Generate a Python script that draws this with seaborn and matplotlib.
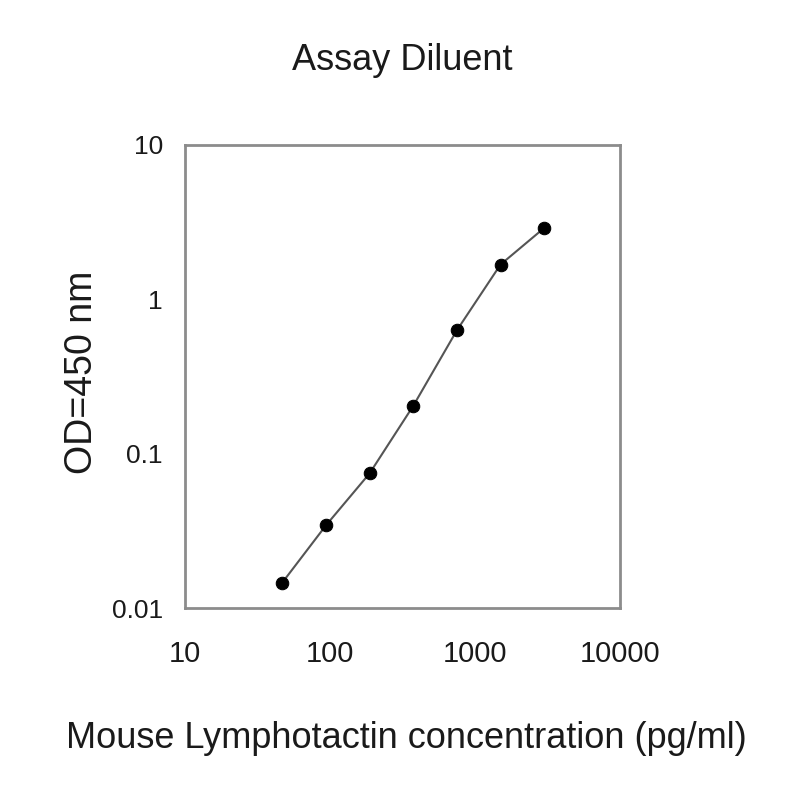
import matplotlib
matplotlib.use("Agg")
import matplotlib.pyplot as plt
import seaborn as sns
import pandas as pd
from matplotlib.ticker import FixedLocator, FixedFormatter, NullLocator

concentration = [46.875, 93.75, 187.5, 375, 750, 1500, 3000]
od450 = [0.0146, 0.0343, 0.0745, 0.204, 0.63, 1.68, 2.9]
x_ticks = [10, 100, 1000, 10000]
x_tick_labels = ["10", "100", "1000", "10000"]
y_ticks = [0.01, 0.1, 1, 10]
y_tick_labels = ["0.01", "0.1", "1", "10"]

sns.set_style("white")
plt.rcParams['font.family'] = ['Liberation Sans', 'DejaVu Sans']

df = pd.DataFrame({"conc": concentration, "od": od450})

fig = plt.figure(figsize=(8, 8), dpi=100)
ax = fig.add_axes([185/800, 1 - 608/800, 435/800, 463/800])

sns.lineplot(data=df, x="conc", y="od", ax=ax, color="#555555", linewidth=1.5,
             marker="o", markersize=9, markerfacecolor="black",
             markeredgecolor="black")

ax.set_xscale("log")
ax.set_yscale("log")
ax.set_xlim(10, 10000)
ax.set_ylim(0.01, 10)
ax.xaxis.set_major_locator(FixedLocator(x_ticks))
ax.xaxis.set_major_formatter(FixedFormatter(x_tick_labels))
ax.yaxis.set_major_locator(FixedLocator(y_ticks))
ax.yaxis.set_major_formatter(FixedFormatter(y_tick_labels))
ax.xaxis.set_minor_locator(NullLocator())
ax.yaxis.set_minor_locator(NullLocator())

for s in ax.spines.values():
    s.set_color("#8c8c8c")
    s.set_linewidth(2)

ax.tick_params(axis="both", which="major", direction="out", length=4,
               width=1.2, color="#8c8c8c", labelcolor="#1a1a1a")
ax.tick_params(axis="x", labelsize=21, pad=19)
ax.tick_params(axis="y", labelsize=19, pad=12)

ax.set_title("Assay Diluent", fontsize=26, color="#1a1a1a", pad=54)
ax.set_xlabel("Mouse Lymphotactin concentration (pg/ml)", fontsize=26, color="#1a1a1a")
ax.set_ylabel("OD=450 nm", fontsize=27, color="#1a1a1a")
ax.xaxis.set_label_coords(0.509, -0.245)
ax.yaxis.set_label_coords(-0.195, 0.51)

fig.savefig("out.png", dpi=100)
